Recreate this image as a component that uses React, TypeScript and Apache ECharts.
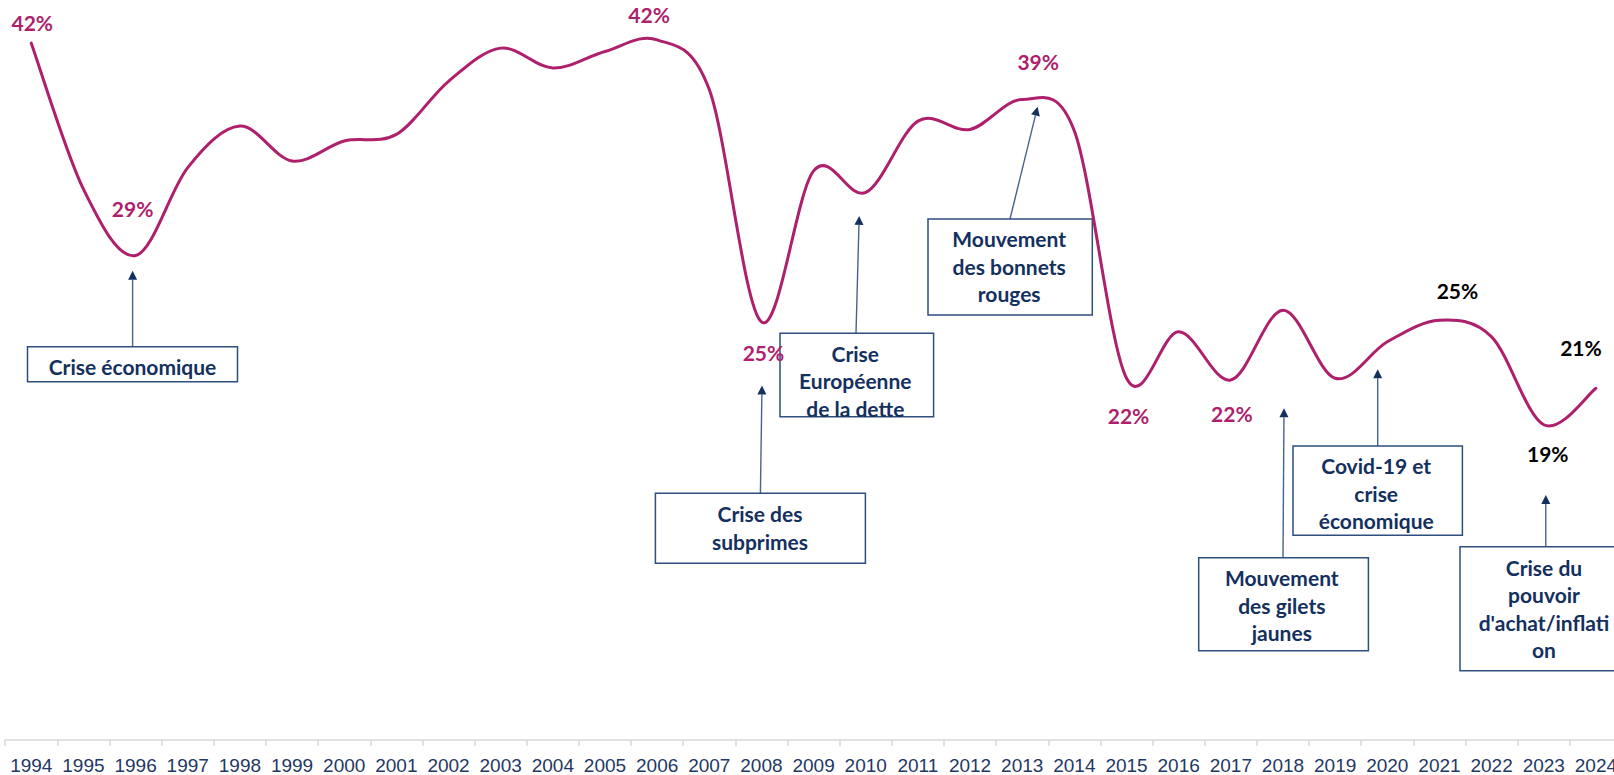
import React, { useEffect, useRef } from 'react';
import * as echarts from 'echarts';

// ---- Data ----
const years = [
  '1994', '1995', '1996', '1997', '1998', '1999', '2000', '2001', '2002', '2003',
  '2004', '2005', '2006', '2007', '2008', '2009', '2010', '2011', '2012', '2013',
  '2014', '2015', '2016', '2017', '2018', '2019', '2020', '2021', '2022', '2023', '2024',
];
const values = [
  42.0, 33.2, 29.2, 34.5, 37.0, 34.9, 36.1, 36.5, 39.7, 41.7,
  40.5, 41.5, 42.2, 39.2, 25.2, 34.3, 33.0, 37.3, 36.8, 38.6,
  36.7, 21.8, 24.6, 21.7, 25.9, 21.8, 24.0, 25.3, 24.3, 19.0, 21.2,
];
const labeledYears = ['1994', '1996', '2006', '2008', '2013', '2015', '2017', '2021', '2023', '2024'];
const blackLabelYears = ['2021', '2023', '2024'];

// ---- Layout / styles ----
const LINE_COLOR = '#AE1F6C';
const NAVY = '#14305E';
const BOX_STROKE = '#2E4E7E';
const ARROW_LINE = '#46648F';

const LABEL_OFFSETS: Record<string, [number, number]> = {
  '1994': [1, -21],
  '1996': [-3, -47],
  '2006': [-8, -25],
  '2008': [2, 31],
  '2013': [16, -38],
  '2015': [2, 37],
  '2017': [1, 34],
  '2021': [18, -30],
  '2023': [4, 29],
  '2024': [-15, -41],
};

type Annotation = {
  text: string;
  box: [number, number, number, number];
  center: [number, number];
  arrow: [number, number, number, number];
};

const ANNOTATIONS: Annotation[] = [
  { text: 'Crise économique', box: [27.5, 346.7, 210, 35], center: [132.5, 366], arrow: [132.6, 346.7, 132.6, 270.7] },
  { text: 'Crise des\nsubprimes', box: [655.4, 493.3, 210, 70], center: [760, 527.5], arrow: [760.4, 493.3, 762, 385.5] },
  { text: 'Crise\nEuropéenne\nde la dette', box: [780, 333.3, 153.6, 83.4], center: [855.3, 380.8], arrow: [856, 333.3, 859.2, 216] },
  { text: 'Mouvement\ndes bonnets\nrouges', box: [928, 219, 164.3, 96], center: [1009.2, 266], arrow: [1010, 219, 1037.6, 106.7] },
  { text: 'Mouvement\ndes gilets\njaunes', box: [1198.7, 557.7, 169.7, 93], center: [1281.8, 605], arrow: [1283, 557.7, 1284, 408.3] },
  { text: 'Covid-19 et\ncrise\néconomique', box: [1293, 446, 169.4, 89.3], center: [1376.2, 493], arrow: [1377.7, 446, 1377.7, 369.3] },
  { text: "Crise du\npouvoir\nd'achat/inflati\non", box: [1460, 546.7, 168, 124], center: [1544, 608.3], arrow: [1545.8, 546.7, 1545.8, 495] },
];

function buildGraphics() {
  const els: any[] = [];
  ANNOTATIONS.forEach((a) => {
    const [x1, y1, x2, y2] = a.arrow;
    const dx = x2 - x1;
    const dy = y2 - y1;
    const len = Math.sqrt(dx * dx + dy * dy);
    const ux = dx / len;
    const uy = dy / len;
    const headLen = 9;
    const headHalf = 4.5;
    const bx = x2 - ux * headLen;
    const by = y2 - uy * headLen;
    const px = -uy;
    const py = ux;
    els.push({
      type: 'line',
      z: 5,
      shape: { x1, y1, x2: bx, y2: by },
      style: { stroke: ARROW_LINE, lineWidth: 1.4 },
    });
    els.push({
      type: 'polygon',
      z: 5,
      shape: {
        points: [
          [x2, y2],
          [bx + px * headHalf, by + py * headHalf],
          [bx - px * headHalf, by - py * headHalf],
        ],
      },
      style: { fill: NAVY },
    });
    els.push({
      type: 'rect',
      z: 5,
      shape: { x: a.box[0], y: a.box[1], width: a.box[2], height: a.box[3] },
      style: { fill: '#ffffff', stroke: BOX_STROKE, lineWidth: 1.5 },
    });
    els.push({
      type: 'text',
      z: 6,
      x: a.center[0],
      y: a.center[1],
      style: {
        text: a.text,
        align: 'center',
        verticalAlign: 'middle',
        fontFamily: 'Lato',
        fontWeight: 'bold',
        fontSize: 21,
        lineHeight: 27.5,
        fill: NAVY,
      },
    });
  });
  return els;
}

// Catmull-Rom style smoothing (like spreadsheet smoothed lines)
function smoothPath(pts: number[][]) {
  if (!pts.length) return '';
  let d = `M${pts[0][0]},${pts[0][1]}`;
  for (let i = 0; i < pts.length - 1; i++) {
    const p0 = pts[i - 1] || pts[i];
    const p1 = pts[i];
    const p2 = pts[i + 1];
    const p3 = pts[i + 2] || p2;
    const c1x = p1[0] + (p2[0] - p0[0]) / 6;
    const c1y = p1[1] + (p2[1] - p0[1]) / 6;
    const c2x = p2[0] - (p3[0] - p1[0]) / 6;
    const c2y = p2[1] - (p3[1] - p1[1]) / 6;
    d += ` C${c1x},${c1y} ${c2x},${c2y} ${p2[0]},${p2[1]}`;
  }
  return d;
}

export default function App() {
  const ref = useRef<HTMLDivElement>(null);

  useEffect(() => {
    if (!ref.current) return;
    const chart = echarts.init(ref.current, undefined, { renderer: 'svg' });

    const labelData = values.map((v, i) => {
      const y = years[i];
      if (!labeledYears.includes(y)) return { value: v };
      return {
        value: v,
        label: {
          show: true,
          position: 'inside',
          offset: LABEL_OFFSETS[y] || [0, -20],
          color: blackLabelYears.includes(y) ? '#000000' : LINE_COLOR,
        },
      };
    });

    chart.setOption({
      animation: false,
      backgroundColor: '#ffffff',
      grid: { left: 5.2, right: 0, top: 0, bottom: 35, containLabel: false },
      xAxis: {
        type: 'category',
        data: years,
        boundaryGap: true,
        axisLine: { show: true, lineStyle: { color: '#D9D9D9', width: 1.5 } },
        axisTick: { show: true, length: 6, lineStyle: { color: '#D9D9D9', width: 1.5 } },
        axisLabel: {
          interval: 0,
          color: '#1F3864',
          fontFamily: 'Liberation Sans',
          fontSize: 19,
          margin: 16,
        },
        splitLine: { show: false },
      },
      yAxis: {
        type: 'value',
        min: 0,
        max: 44.6,
        show: false,
        splitLine: { show: false },
      },
      series: [
        {
          type: 'custom',
          silent: true,
          data: [[0, values[0]]],
          z: 9,
          renderItem: (params: any, api: any) => {
            if (params.dataIndex !== 0) return null;
            const pts = values.map((v, i) => api.coord([i, v]));
            return {
              type: 'path',
              shape: { pathData: smoothPath(pts) },
              style: { stroke: LINE_COLOR, lineWidth: 3, fill: null, lineJoin: 'round', lineCap: 'round' },
            };
          },
        },
        {
          type: 'line',
          data: labelData,
          silent: true,
          showSymbol: true,
          showAllSymbol: true,
          symbol: 'circle',
          symbolSize: 0.1,
          itemStyle: { color: LINE_COLOR },
          lineStyle: { opacity: 0, width: 0 },
          label: {
            show: false,
            fontFamily: 'Lato',
            fontWeight: 'bold',
            fontSize: 21,
            formatter: (p: any) => Math.round(p.value) + '%',
          },
          z: 10,
        },
      ],
      graphic: buildGraphics(),
    });

    return () => {
      chart.dispose();
    };
  }, []);

  return (
    <div style={{ position: 'fixed', left: 0, top: 0, width: 1614, height: 775, overflow: 'hidden', background: '#fff' }}>
      <div ref={ref} style={{ width: 1622, height: 775 }} />
    </div>
  );
}
